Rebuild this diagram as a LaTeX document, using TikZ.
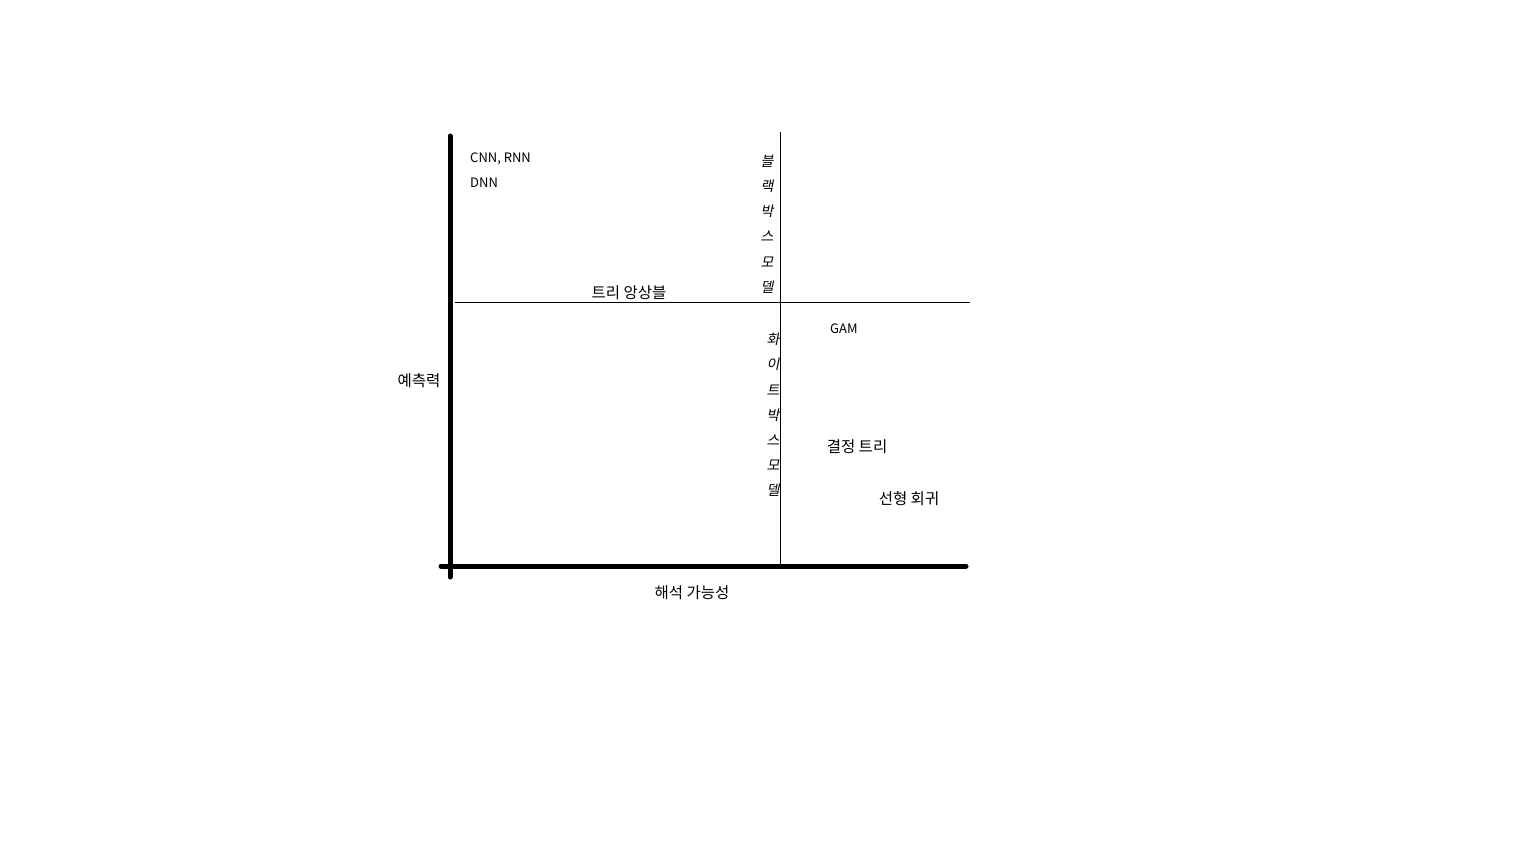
\documentclass[tikz,border=0pt]{standalone}
\usepackage{fontspec}
\setmainfont{Noto Sans CJK KR}
\newfontfamily\slantkr[FakeSlant=0.2]{Noto Sans CJK KR}

\begin{document}
\begin{tikzpicture}[
      x=1pt, y=-1pt,
      axis/.style={line width=5pt, line cap=round},
      divider/.style={line width=0.9pt},
      label/.style={font=\fontsize{15.5}{17}\selectfont, inner sep=0pt},
      model/.style={font=\fontsize{13}{15}\selectfont, inner sep=0pt, anchor=west},
      vert/.style={font=\slantkr\fontsize{14}{25.2}\selectfont, align=center, inner sep=0pt}
    ]
    \useasboundingbox (0,0) rectangle (1536,864);

    % Axes
    \coordinate (ytop) at (450,136);
    \coordinate (ybot) at (450,577);
    \coordinate (xleft) at (441,566);
    \coordinate (xright) at (966,566);
    \draw[axis] (ybot) -- (ytop);
    \draw[axis] (xleft) -- (xright);

    % Dividers
    \coordinate (vtop) at (780,132);
    \coordinate (vbot) at (780,566);
    \coordinate (hleft) at (455,302);
    \coordinate (hright) at (970,302);
    \draw[divider] (vtop) -- (vbot);
    \draw[divider] (hleft) -- (hright);

    % Axis labels
    \node[label] (power) at (419,381) {예측력};
    \node[label] (interp) at (692,593) {해석 가능성};

    % Models
    \node[model] (cnn) at (470,159) {CNN, RNN};
    \node[model] (dnn) at (470,183) {DNN};
    \node[label] (ensemble) at (629,293) {트리 앙상블};
    \node[model] (gam) at (830,329) {GAM};
    \node[label] (dtree) at (857,447) {결정 트리};
    \node[label] (linreg) at (909,499) {선형 회귀};

    % Regions
    \node[vert] (black) at (767,224) {블\\랙\\박\\스\\모\\델};
    \node[vert] (white) at (773,415) {화\\이\\트\\박\\스\\모\\델};
  \end{tikzpicture}
\end{document}
